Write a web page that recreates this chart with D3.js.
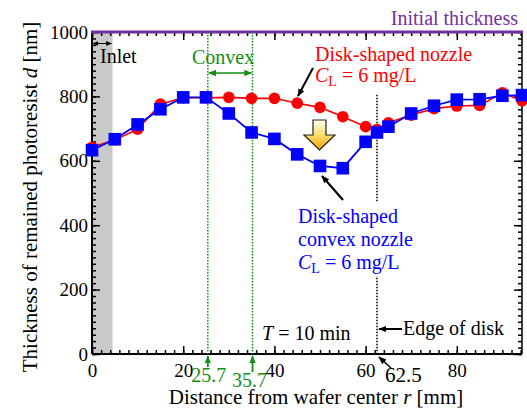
<!DOCTYPE html>
<html><head><meta charset="utf-8">
<script src="https://cdn.jsdelivr.net/npm/d3@7"></script>
<style>
body{margin:0;background:#fff}
svg{display:block}
svg text{font-family:"Liberation Serif",serif !important}
</style></head><body>
<svg id="c" width="527" height="409" font-family="Liberation Serif, serif"></svg>
<script>
// ---- data ----
const radius = [0,5,10,15,20,25,30,35,40,45,50,55,60,62.5,65,70,75,80,85,90,94.3];
const diskNozzle   = [642,665,698,776,796,796,797,794,794,779,766,737,706,697,718,742,762,770,772,811,786];
const convexNozzle = [633,667,713,760,797,797,747,688,668,620,584,577,659,688,706,747,771,790,791,802,804];
const xTickLabels = [0,20,40,60,80];
const yTickLabels = [0,200,400,600,800,1000];
const convexLines = [25.4,35.2];
const convexLabels = ["25.7","35.7"];
const diskEdge = 62.5;
const inletEdge = 4.5;
const initialThickness = 1000;
const xMax = 94.3;

const FONT = "'Liberation Serif', serif";
const svg = d3.select("#c");
const x = d3.scaleLinear().domain([0,xMax]).range([92,522]);
const y = d3.scaleLinear().domain([0,1000]).range([354,32]);
const green = "#139013", purple = "#7330a2";

const defs = svg.append("defs");
function marker(id,color,size){
  defs.append("marker").attr("id",id).attr("viewBox","0 0 10 10").attr("refX",9).attr("refY",5)
    .attr("markerWidth",size).attr("markerHeight",size).attr("orient","auto-start-reverse")
    .attr("markerUnits","userSpaceOnUse")
    .append("path").attr("d","M0,1 L10,5 L0,9 Z").attr("fill",color);
}
marker("ab","#000",8); marker("ag",green,8); marker("abs","#000",6);
const grad = defs.append("linearGradient").attr("id","yg").attr("x1",0).attr("x2",0).attr("y1",0).attr("y2",1);
grad.append("stop").attr("offset","0%").attr("stop-color","#fffdf0");
grad.append("stop").attr("offset","45%").attr("stop-color","#ffe27a");
grad.append("stop").attr("offset","100%").attr("stop-color","#f3a200");

// inlet band
svg.append("rect").attr("x",x(0)).attr("y",y(1000)).attr("width",x(inletEdge)-x(0)).attr("height",y(0)-y(1000)).attr("fill","#c9c9c9");

// axes
function ax(gen, tr, vals, len, labels){
  const g = svg.append("g").attr("transform",tr).call(gen.tickValues(vals).tickSize(-len).tickSizeOuter(0)
    .tickFormat(labels ? d3.format("d") : ""));
  g.attr("font-family",FONT);
  g.selectAll(".tick line").attr("stroke","#000").attr("stroke-width",1.5);
  g.select(".domain").attr("stroke","none");
  g.selectAll("text").attr("font-size",19).attr("fill","#000").style("font-family",FONT);
  return g;
}
const xMinor = d3.range(0,xMax,2), yMinor = d3.range(0,1001,20);
ax(d3.axisBottom(x), `translate(0,${y(0)})`, xMinor, 4, false);
const xb = ax(d3.axisBottom(x), `translate(0,${y(0)})`, xTickLabels, 8, true);
xb.selectAll("text").attr("dy",null).attr("y",23);
ax(d3.axisTop(x), `translate(0,${y(1000)})`, xMinor, 4, false);
ax(d3.axisTop(x), `translate(0,${y(1000)})`, xTickLabels, 8, false);
ax(d3.axisLeft(y), `translate(${x(0)},0)`, yMinor, 4, false);
const yl = ax(d3.axisLeft(y), `translate(${x(0)},0)`, yTickLabels, 8, true);
yl.selectAll("text").attr("x",-4);
ax(d3.axisRight(y), `translate(${x(xMax)},0)`, yMinor, 4, false);
ax(d3.axisRight(y), `translate(${x(xMax)},0)`, yTickLabels, 8, false);

// frame
svg.append("line").attr("x1",x(0)).attr("x2",x(0)).attr("y1",y(1000)).attr("y2",y(0)).attr("stroke","#000").attr("stroke-width",2);
svg.append("line").attr("x1",x(0)).attr("x2",x(xMax)).attr("y1",y(0)).attr("y2",y(0)).attr("stroke","#000").attr("stroke-width",2);
svg.append("line").attr("x1",x(xMax)).attr("x2",x(xMax)).attr("y1",y(1000)).attr("y2",y(0)).attr("stroke","#000").attr("stroke-width",1.5);
svg.append("line").attr("x1",x(0)-1).attr("x2",x(xMax)+1).attr("y1",y(initialThickness)).attr("y2",y(initialThickness)).attr("stroke",purple).attr("stroke-width",3);

// dotted lines
convexLines.forEach(v=>{
  svg.append("line").attr("x1",x(v)).attr("x2",x(v)).attr("y1",y(1000)).attr("y2",y(0))
    .attr("stroke",green).attr("stroke-width",1.5).attr("stroke-dasharray","1.5,1.5");
});
svg.append("line").attr("x1",x(diskEdge)).attr("x2",x(diskEdge)).attr("y1",y(805)).attr("y2",y(0))
  .attr("stroke","#000").attr("stroke-width",1.5).attr("stroke-dasharray","1.5,1.5");

// white box behind blue label
svg.append("rect").attr("x",296).attr("y",202).attr("width",118).attr("height",74).attr("fill","#fff");

// series
const line = d3.line().x((d,i)=>x(radius[i])).y(d=>y(d));
svg.append("path").datum(diskNozzle).attr("d",line).attr("fill","none").attr("stroke","#ff0000").attr("stroke-width",1.6);
svg.selectAll(".rc").data(diskNozzle).join("circle").attr("cx",(d,i)=>x(radius[i])).attr("cy",d=>y(d)).attr("r",5.8).attr("fill","#ff0000");
svg.append("path").datum(convexNozzle).attr("d",line).attr("fill","none").attr("stroke","#0000ff").attr("stroke-width",1.8);
svg.selectAll(".bs").data(convexNozzle).join("rect").attr("x",(d,i)=>x(radius[i])-6.3).attr("y",d=>y(d)-6.3)
  .attr("width",12.6).attr("height",12.6).attr("fill","#0000ff");

// texts
function t(txt,xx,yy,color,anchor){
  return svg.append("text").attr("x",xx).attr("y",yy).attr("font-size",20).attr("fill",color||"#000")
    .style("font-family",FONT).attr("text-anchor",anchor||"start").text(txt);
}
t("Initial thickness",518,25,purple,"end");
t("Disk-shaped nozzle",315,61,"#ff0000");
function cl(xx,yy,color){
  const e = svg.append("text").attr("x",xx).attr("y",yy).attr("font-size",20).attr("fill",color).style("font-family",FONT);
  e.append("tspan").attr("font-style","italic").text("C");
  e.append("tspan").attr("font-size",14).attr("dy",4).text("L");
  e.append("tspan").attr("dy",-4).text(" = 6 mg/L");
}
cl(315,82,"#ff0000");
t("Disk-shaped",298,223,"#0000ff");
t("convex nozzle",298,246,"#0000ff");
cl(298,269,"#0000ff");
t("Inlet",100,63);
t("Convex",192,64,green);
const tt = svg.append("text").attr("x",262).attr("y",340).attr("font-size",20).style("font-family",FONT);
tt.append("tspan").attr("font-style","italic").text("T");
tt.append("tspan").text(" = 10 min");
t("Edge of disk",403,335);
t(convexLabels[0],x(convexLines[0])+1,382,green,"middle");
t(convexLabels[1],x(convexLines[1])-3,387,green,"middle");
t("62.5",385,382).attr("font-size",21);

// annotation arrows
function arr(x1,y1,x2,y2,color,mk,w,both){
  const l = svg.append("line").attr("x1",x1).attr("y1",y1).attr("x2",x2).attr("y2",y2)
    .attr("stroke",color).attr("stroke-width",w||1.5).attr("marker-end",`url(#${mk})`);
  if(both) l.attr("marker-start",`url(#${mk})`);
}
arr(x(0)+1,43.5,x(inletEdge)-1,43.5,"#000","abs",1,true);
arr(x(convexLines[0])+1,73,x(convexLines[1])-1,73,green,"ag",1.5,true);
arr(313,68,298,96,"#000","ab",2);
arr(343,200,322,176,"#000","ab",2);
arr(402,329,379,329,"#000","ab",2);
arr(391,368,379,357,"#000","ab",1.5);
arr(x(convexLines[0]),367,x(convexLines[0]),356,green,"ag",1.8);
arr(x(convexLines[1]),372,x(convexLines[1]),356,green,"ag",1.8);

// yellow arrow
svg.append("path").attr("d","M313,120 L326,120 L326,135 L335,135 L319.5,150 L304,135 L313,135 Z")
  .attr("fill","url(#yg)").attr("stroke","#222").attr("stroke-width",1.2);

// axis titles
const xt = svg.append("text").attr("x",316).attr("y",404).attr("text-anchor","middle").attr("font-size",21).style("font-family",FONT);
xt.append("tspan").text("Distance from wafer center ");
xt.append("tspan").attr("font-style","italic").text("r");
xt.append("tspan").text(" [mm]");
const yt = svg.append("text").attr("transform","translate(37,197) rotate(-90)").attr("text-anchor","middle").attr("font-size",21).style("font-family",FONT);
yt.append("tspan").text("Thickness of remained photoresist ");
yt.append("tspan").attr("font-style","italic").text("d");
yt.append("tspan").text(" [nm]");
</script></body></html>
